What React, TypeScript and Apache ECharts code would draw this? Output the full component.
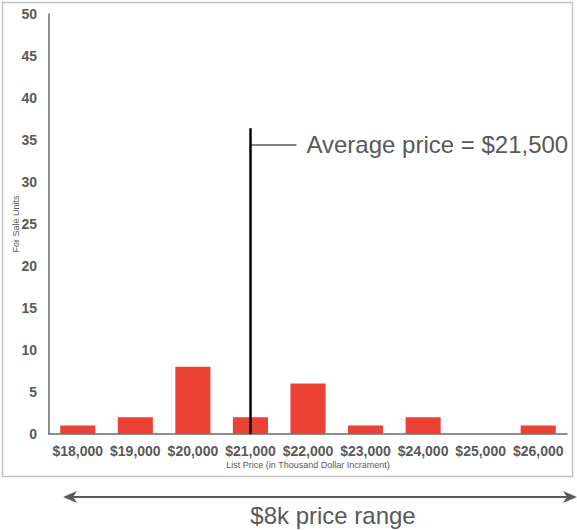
import React, { useEffect, useRef } from "react";
import * as echarts from "echarts";

// Histogram of for-sale listings by list price
const priceBins: string[] = [
  "$18,000", "$19,000", "$20,000", "$21,000", "$22,000",
  "$23,000", "$24,000", "$25,000", "$26,000",
];
const forSaleUnits: number[] = [1, 2, 8, 2, 6, 1, 2, 0, 1];
const yTicks = { min: 0, max: 50, interval: 5 };

// Average-price marker
const avgLabel = "Average price = $21,500";
const avgLineBin = "$21,000";
const avgLineTop = 36.4;
const avgConnectorAt = 34.4;

const rangeLabel = "$8k price range";

const FONT = "'Liberation Sans', Arial, Helvetica, sans-serif";
const GREY = "#595959";
const BAR_RED = "#ea4335";

export default function App() {
  const ref = useRef<HTMLDivElement>(null);

  useEffect(() => {
    document.body.style.margin = "0";
    if (!ref.current) return;
    const chart = echarts.init(ref.current, undefined, { renderer: "svg" });

    chart.setOption({
      animation: false,
      backgroundColor: "#ffffff",
      textStyle: { fontFamily: FONT },
      grid: {
        left: 49,
        right: 10,
        top: 14,
        bottom: 96,
        containLabel: false,
        outerBoundsMode: "none",
      },
      xAxis: {
        type: "category",
        data: priceBins,
        name: "List Price (in Thousand Dollar Incrament)",
        nameLocation: "middle",
        nameGap: 26,
        nameMoveOverlap: false,
        nameTextStyle: { fontSize: 9, color: GREY, fontFamily: FONT },
        axisLine: { show: true, lineStyle: { color: "#6b6b6b", width: 1.5 } },
        axisTick: { show: false },
        axisLabel: {
          color: GREY,
          fontSize: 14,
          fontWeight: "bold",
          margin: 10,
          interval: 0,
          fontFamily: FONT,
        },
        splitLine: { show: false },
      },
      yAxis: {
        type: "value",
        min: yTicks.min,
        max: yTicks.max,
        interval: yTicks.interval,
        name: "For Sale Units",
        nameLocation: "middle",
        nameGap: 29,
        nameMoveOverlap: false,
        nameTextStyle: { fontSize: 9, color: GREY, fontFamily: FONT },
        axisLine: { show: true, lineStyle: { color: "#6b6b6b", width: 1.5 } },
        axisTick: { show: false },
        axisLabel: {
          color: GREY,
          fontSize: 14,
          fontWeight: "bold",
          margin: 12,
          fontFamily: FONT,
        },
        splitLine: { show: false },
      },
      series: [
        {
          type: "bar",
          data: forSaleUnits,
          barCategoryGap: "39%",
          itemStyle: { color: BAR_RED },
          markLine: {
            silent: true,
            symbol: "none",
            label: { show: false },
            lineStyle: { color: "#000000", width: 2.5, type: "solid" },
            data: [
              [
                { coord: [avgLineBin, 0] },
                { coord: [avgLineBin, avgLineTop] },
              ],
            ],
          },
        },
      ],
    });

    // Place the callout and range arrow relative to the plotted axes
    const p = chart.convertToPixel({ xAxisIndex: 0, yAxisIndex: 0 }, [
      avgLineBin,
      avgConnectorAt,
    ]) as number[];
    const ax = p[0];
    const ay = p[1];
    const arrowY = 497;

    chart.setOption({
      graphic: [
        {
          type: "rect",
          shape: { x: 2.5, y: 2.5, width: 570, height: 474 },
          style: { fill: "none", stroke: "#c4c4c4", lineWidth: 1.5 },
          silent: true,
        },
        {
          type: "line",
          shape: { x1: ax, y1: ay, x2: ax + 46, y2: ay },
          style: { stroke: GREY, lineWidth: 1.5 },
          silent: true,
        },
        {
          type: "text",
          x: ax + 56,
          y: ay - 1,
          style: {
            text: avgLabel,
            fontSize: 24,
            fontFamily: FONT,
            fill: GREY,
            verticalAlign: "middle",
            align: "left",
          },
          silent: true,
        },
        {
          type: "line",
          shape: { x1: 66, y1: arrowY, x2: 574, y2: arrowY },
          style: { stroke: GREY, lineWidth: 2 },
          silent: true,
        },
        {
          type: "polygon",
          shape: {
            points: [
              [63, arrowY],
              [77, arrowY - 6],
              [73, arrowY],
              [77, arrowY + 6],
            ],
          },
          style: { fill: GREY },
          silent: true,
        },
        {
          type: "polygon",
          shape: {
            points: [
              [577, arrowY],
              [563, arrowY - 6],
              [567, arrowY],
              [563, arrowY + 6],
            ],
          },
          style: { fill: GREY },
          silent: true,
        },
        {
          type: "text",
          x: 333,
          y: 515,
          style: {
            text: rangeLabel,
            fontSize: 24,
            fontFamily: FONT,
            fill: GREY,
            align: "center",
            verticalAlign: "middle",
          },
          silent: true,
        },
      ],
    });

    return () => {
      chart.dispose();
    };
  }, []);

  return <div ref={ref} style={{ width: 577, height: 530 }} />;
}
